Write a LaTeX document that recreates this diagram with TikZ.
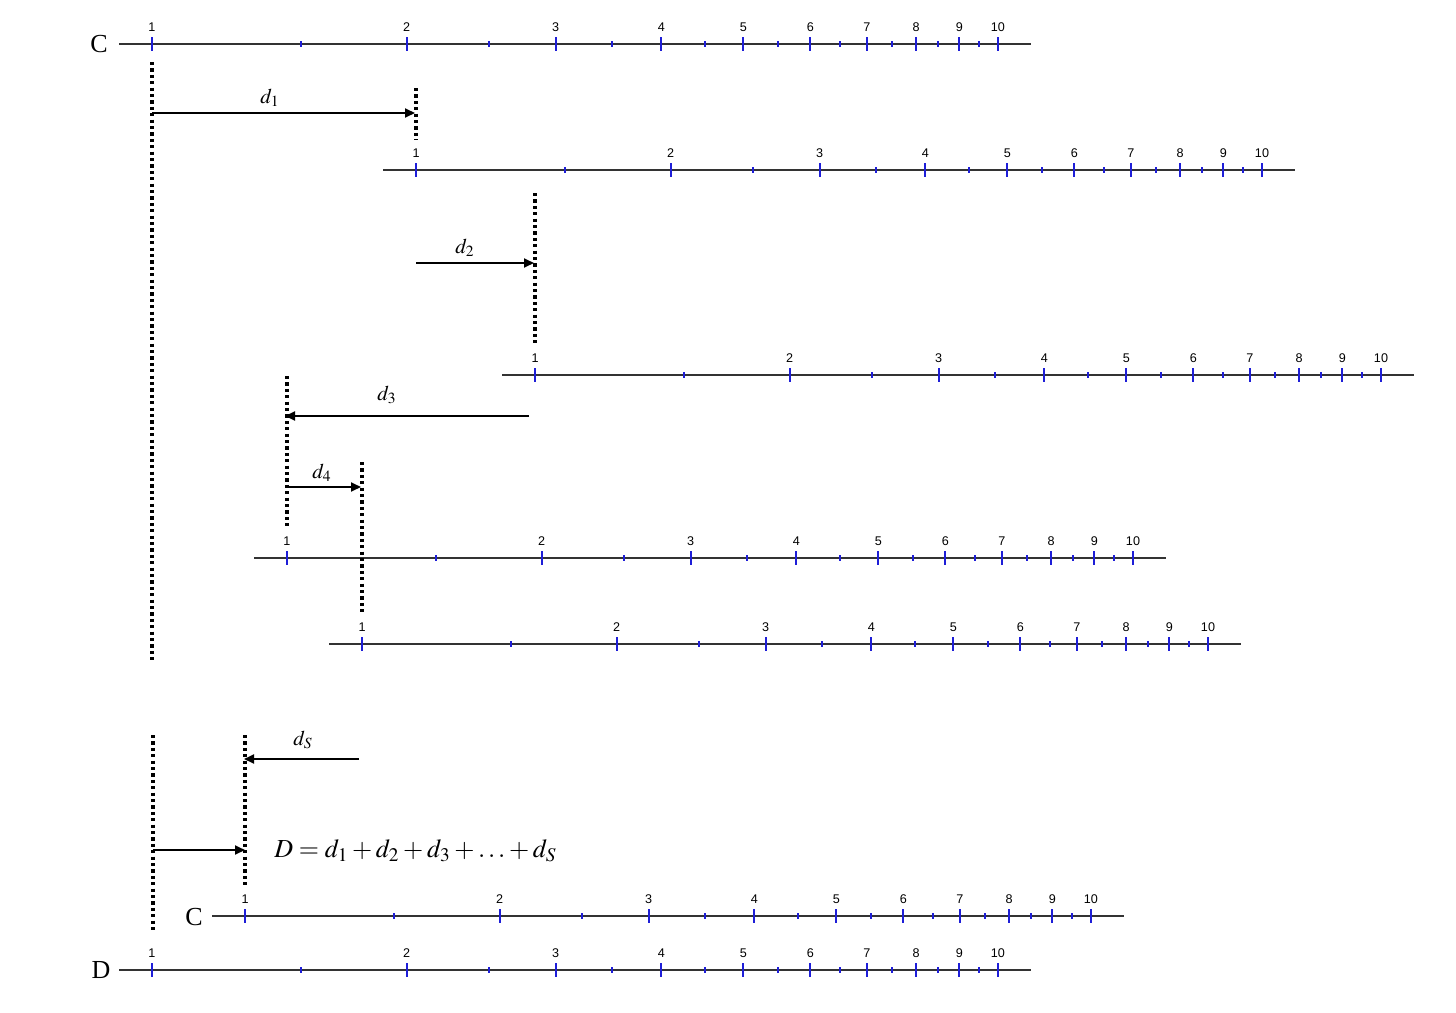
\documentclass[tikz,border=0pt]{standalone}
\usepackage{mathptmx}
\usepackage{fontspec}
\setmainfont{Liberation Serif}
\newfontfamily\ticksans{Liberation Sans}
\usetikzlibrary{arrows.meta}
\definecolor{tickblue}{RGB}{30,30,215}
\tikzset{
 scaleline/.style={line width=0.6pt, black!80},
 majtick/.style={line width=1pt, tickblue},
 mintick/.style={line width=1pt, tickblue},
 ticklabel/.style={font=\ticksans\fontsize{6.3}{7}\selectfont, inner sep=0pt},
 dotline/.style={line width=1.6pt, dash pattern=on 1.6pt off 1.6pt},
 distarrow/.style={line width=0.9pt, -{Triangle[length=5pt,width=4.5pt]}},
 scalename/.style={font=\fontsize{13}{15}\selectfont, inner sep=0pt},
 dlabel/.style={font=\fontsize{10.5}{12}\selectfont, inner sep=0pt},
 eqlabel/.style={font=\fontsize{13}{15}\selectfont, inner sep=0pt},
}
\newcommand{\slscale}[3]{%
  \draw[scaleline] (#2-33,#3) -- (#2+879,#3);
  \foreach \k in {1,...,9} {
    \pgfmathsetmacro\px{#2+846*log10(\k+0.5)}
    \draw[mintick] (\px,#3-3) -- (\px,#3+3);
  }
  \foreach \k in {1,...,10} {
    \pgfmathsetmacro\px{#2+846*log10(\k)}
    \draw[majtick] (\px,#3-7) -- (\px,#3+7);
    \node[ticklabel] (#1-\k) at (\px,#3-17) {\k};
  }
}
\begin{document}
\begin{tikzpicture}[x=0.5pt,y=-0.5pt]
\fill[white] (0,0) rectangle (1456,1012);
\useasboundingbox (0,0) rectangle (1456,1012);

% scales
\slscale{sA}{152}{44}
\slscale{sB}{416}{170}
\slscale{sC}{535}{375}
\slscale{sD}{287}{558}
\slscale{sE}{362}{644}
\slscale{sF}{245}{916}
\slscale{sG}{152}{970}

\node[scalename] (nameA) at (99,44) {C};
\node[scalename] (nameF) at (194,917) {C};
\node[scalename] (nameG) at (101,970) {D};

% dotted verticals
\coordinate (v0a) at (152,62);  \coordinate (v0b) at (152,660);
\coordinate (v1a) at (416,88);  \coordinate (v1b) at (416,140);
\coordinate (v2a) at (535,193); \coordinate (v2b) at (535,345);
\coordinate (v3a) at (287,376); \coordinate (v3b) at (287,528);
\coordinate (v4a) at (362,462); \coordinate (v4b) at (362,615);
\coordinate (v5a) at (153,735); \coordinate (v5b) at (153,930);
\coordinate (v6a) at (245,735); \coordinate (v6b) at (245,887);
\foreach \v in {0,...,6} {\draw[dotline] (v\v a) -- (v\v b);}

% arrows
\coordinate (a1s) at (152,113); \coordinate (a1e) at (415,113);
\coordinate (a2s) at (416,263); \coordinate (a2e) at (534,263);
\coordinate (a3s) at (529,416); \coordinate (a3e) at (285,416);
\coordinate (a4s) at (287,487); \coordinate (a4e) at (361,487);
\coordinate (a5s) at (359,759); \coordinate (a5e) at (244,759);
\coordinate (a6s) at (153,850); \coordinate (a6e) at (245,850);
\foreach \a in {1,...,6} {\draw[distarrow] (a\a s) -- (a\a e);}

\node[dlabel] (l1) at (270,98) {$d_1$};
\node[dlabel] (l2) at (465,248) {$d_2$};
\node[dlabel] (l3) at (387,395) {$d_3$};
\node[dlabel] (l4) at (322,473) {$d_4$};
\node[dlabel] (l5) at (303,740) {$d_S$};
\node[eqlabel, anchor=west] (eq) at (274,851) {$D = d_1 + d_2 + d_3 + \ldots + d_S$};
\end{tikzpicture}
\end{document}
